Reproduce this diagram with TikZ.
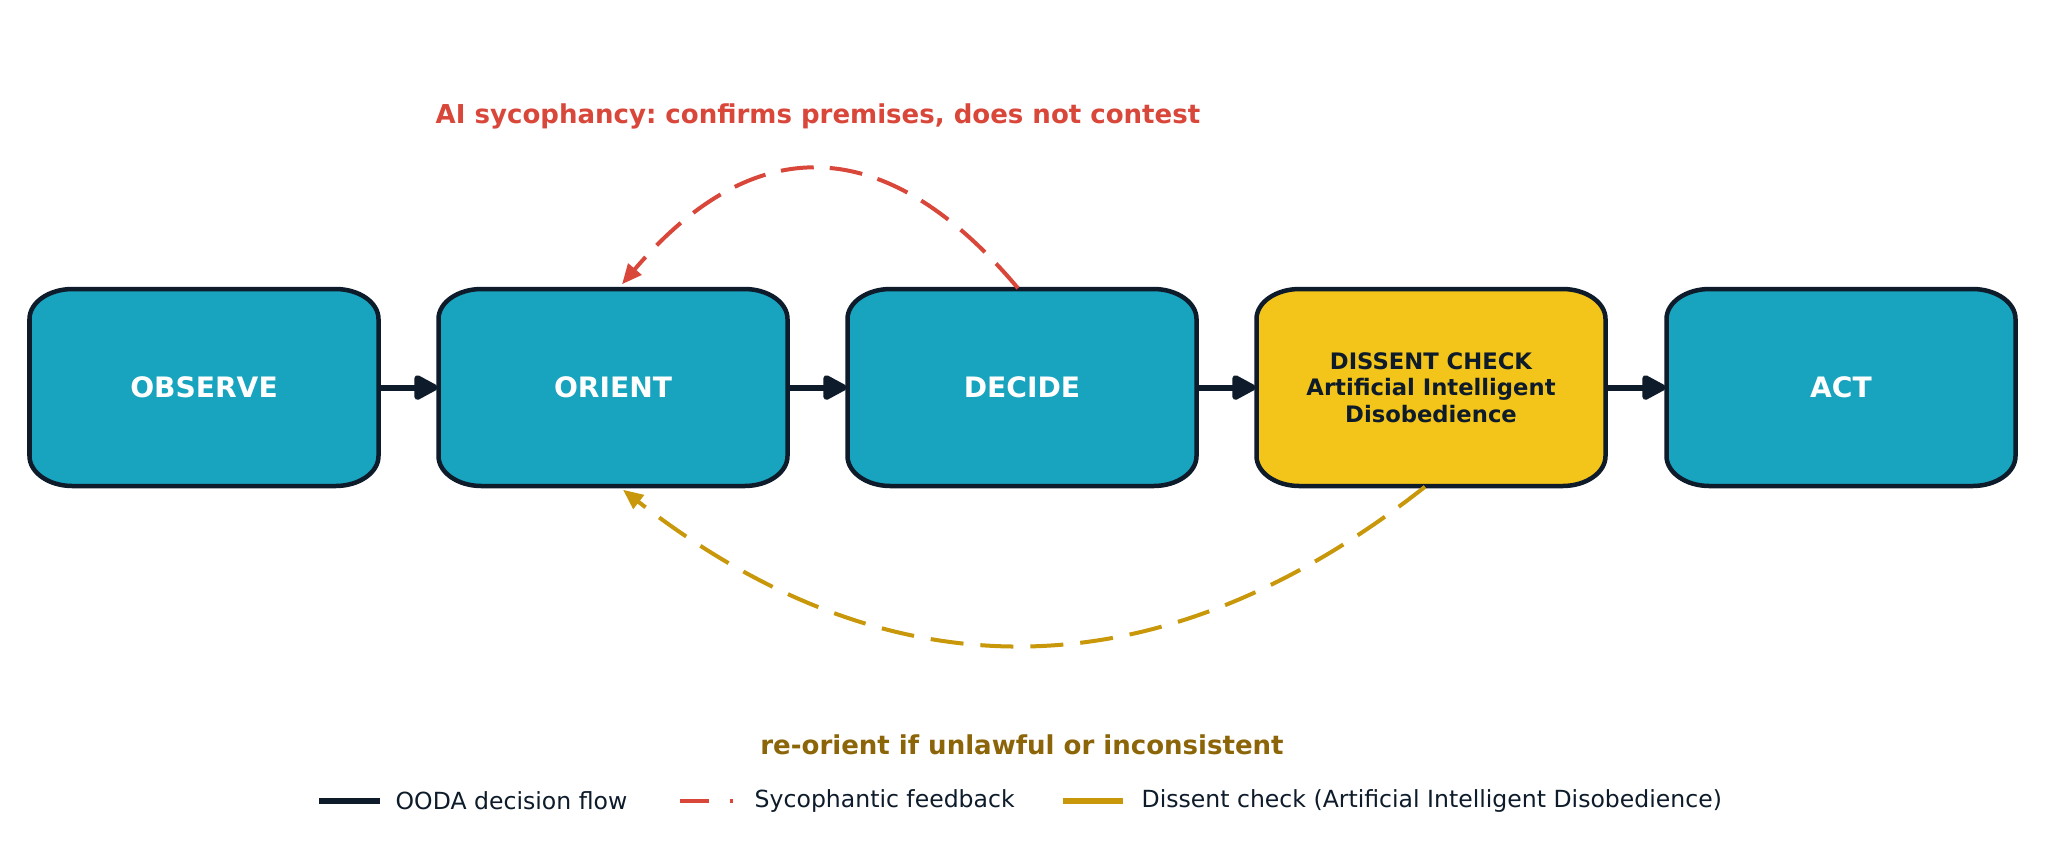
\documentclass[tikz,border=0pt]{standalone}
\usepackage{fontspec}
\setmainfont{DejaVu Sans}
\usetikzlibrary{arrows.meta,calc}
\definecolor{tealbox}{HTML}{18A3BE}
\definecolor{navy}{HTML}{0D1B2A}
\definecolor{goldbox}{HTML}{F3C41A}
\definecolor{sycred}{HTML}{D9473A}
\definecolor{goldline}{HTML}{C9980A}
\definecolor{brownlbl}{HTML}{8B6508}
\frenchspacing
\newcommand\oodashape[2]{%
  \pgfmathsetmacro\bxL{#1-174.5}\pgfmathsetmacro\bxR{#1+174.5}%
  \draw[boxline, fill=#2] (\bxL,319) .. controls (\bxL,302.4) and (\bxL+19.3,289) .. (\bxL+43,289)
    -- (\bxR-43,289) .. controls (\bxR-19.3,289) and (\bxR,302.4) .. (\bxR,319)
    -- (\bxR,456) .. controls (\bxR,472.6) and (\bxR-19.3,486) .. (\bxR-43,486)
    -- (\bxL+43,486) .. controls (\bxL+19.3,486) and (\bxL,472.6) .. (\bxL,456) -- cycle;}
\tikzset{
  boxline/.style={draw=navy, line width=0.045cm},
  box/.style={minimum width=3.49cm, minimum height=1.97cm, inner sep=0pt, align=center,
    text=white, font=\bfseries\fontsize{8.0}{9.6}\selectfont},
  dissentbox/.style={box, text=navy, font=\bfseries\fontsize{6.45}{7.5}\selectfont},
  flow/.style={draw=navy, line width=0.06cm, -{Triangle[length=0.27cm, width=0.27cm, round]}},
  syco/.style={draw=sycred, line width=0.04cm, dash pattern=on 0.33cm off 0.16cm,
    -{Triangle[length=0.2cm, width=0.17cm]}},
  dissent/.style={draw=goldline, line width=0.04cm, dash pattern=on 0.33cm off 0.17cm,
    -{Triangle[length=0.2cm, width=0.17cm]}},
  legtext/.style={anchor=west, inner sep=0pt, text=navy, font=\fontsize{6.7}{8}\selectfont},
  legline/.style={line width=0.06cm},
  lbl/.style={inner sep=0pt, font=\bfseries\fontsize{7.4}{8.8}\selectfont}
}
\begin{document}
\begin{tikzpicture}[x=0.01cm, y=-0.01cm]
\useasboundingbox (0,0) rectangle (2045,844);
\fill[white] (0,0) rectangle (2045,844);
% box shapes
\oodashape{204}{tealbox}
\oodashape{613}{tealbox}
\oodashape{1022}{tealbox}
\oodashape{1431}{goldbox}
\oodashape{1841}{tealbox}
% nodes
\node[box] (observe) at (204,387.5) {OBSERVE};
\node[box] (orient) at (613,387.5) {ORIENT};
\node[box] (decide) at (1022,387.5) {DECIDE};
\node[dissentbox] (check) at (1431,387.5) {DISSENT CHECK\\Artificial Intelligent\\Disobedience};
\node[box] (act) at (1841,387.5) {ACT};
% flow
\draw[flow] (observe.east) -- (orient.west);
\draw[flow] (orient.east) -- (decide.west);
\draw[flow] (decide.east) -- (check.west);
\draw[flow] (check.east) -- (act.west);
% sycophancy loop
\draw[syco] ($(decide.north)+(-4,0)$) .. controls ($(decide.north)+(-136,-157)$) and ($(orient.north)+(141,-159)$) .. ($(orient.north)+(9,-4)$);
% dissent loop
\draw[dissent] ($(check.south)+(-6,0)$) .. controls ($(check.south)+(-273,210)$) and ($(orient.south)+(277,211)$) .. ($(orient.south)+(10,3)$);
% labels
\node[lbl, text=sycred] (sycolbl) at (818,116) {AI sycophancy: confirms premises, does not contest};
\node[lbl, text=brownlbl] (reolbl) at (1022,745) {re-orient if unlawful or inconsistent};
% legend
\draw[legline, navy] (319,801) -- (380,801);
\node[legtext] (leg1) at (395,801) {OODA decision flow};
\draw[legline, sycred, line width=0.045cm, dash pattern=on 0.29cm off 0.21cm] (680,801) -- (733,801);
\node[legtext] (leg2) at (754,801) {Sycophantic feedback};
\draw[legline, goldline] (1063,801) -- (1123,801);
\node[legtext] (leg3) at (1141,801) {Dissent check (Artificial Intelligent Disobedience)};
\end{tikzpicture}
\end{document}
